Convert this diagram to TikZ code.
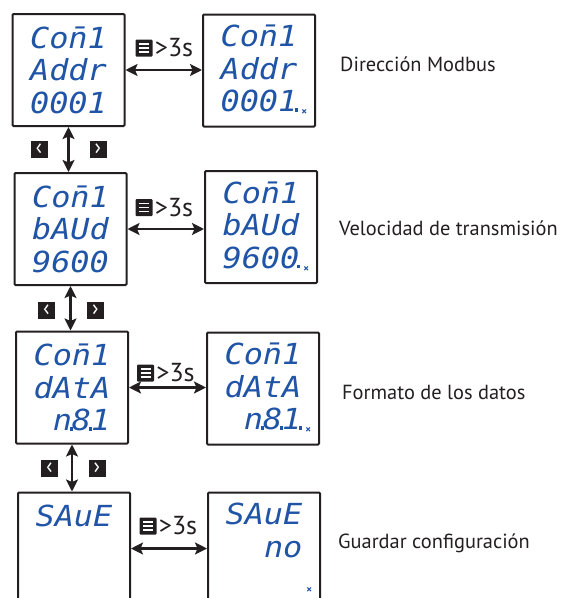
\documentclass[tikz,border=0pt]{standalone}
\usepackage{fontspec}
\setmainfont{PT Sans}
\newfontfamily\segfont[FakeStretch=1.1]{DejaVu Sans Mono}
\usepackage{tikz}
\usetikzlibrary{calc,arrows.meta,positioning}
\usepackage{xcolor}
\definecolor{ink}{RGB}{35,31,32}
\definecolor{segblue}{RGB}{32,84,166}
\newcommand{\segdot}{\makebox[0pt]{\kern-0.05em\rule{0.12em}{0.12em}}}
\newcommand{\segm}{\rlap{¯}n}
\newcommand{\segx}{\makebox[0pt][l]{\kern4pt\raisebox{-4pt}{\normalfont\bfseries\fontsize{11}{11}\selectfont ×}}}

\begin{document}
\begin{tikzpicture}[x=1pt, y=-1pt,
    display/.style={draw=ink, line width=2pt, rounded corners=1pt, minimum width=112pt, minimum height=112pt,
      inner sep=0pt, align=left, text=segblue, font=\segfont\itshape\fontsize{29}{32.5}\selectfont},
    dblarrow/.style={draw=ink, line width=2.4pt, {Stealth[length=12pt,width=12pt,inset=2.5pt]}-{Stealth[length=12pt,width=12pt,inset=2.5pt]}},
    menukey/.style={fill=ink, minimum size=17pt, inner sep=0pt, rounded corners=1pt,
      path picture={\foreach \k in {-4,0,4}{\draw[white, line width=1.5pt] ([xshift=-5pt, yshift=\k pt]path picture bounding box.center) -- ++(10pt,0pt);}}},
    keytext/.style={inner sep=0pt, text=ink, font=\fontsize{26}{28}\selectfont},
    navkey/.style={fill=ink, minimum size=17pt, inner sep=0pt, text=white, font=\fontsize{22}{22}\selectfont},
    caption/.style={anchor=west, inner sep=0pt, text=ink, font=\fontsize{20.4}{24}\selectfont}]
  \useasboundingbox (0,0) rectangle (561,598);
  % displays
  \node[display] (L1) at (68.5,70) {Co\segm1\\Addr\\0001};
  \node[display] (R1) at (259,70.5) {Co\segm1\\Addr\\0001\segdot\segx};
  \node[display] (L2) at (70.5,229) {Co\segm1\\bAUd\\9600};
  \node[display] (R2) at (261,227) {Co\segm1\\bAUd\\9600\segdot\segx};
  \node[display] (L3) at (72,387.5) {Co\segm1\\dAtA\\\phantom{0}n\segdot8\segdot1};
  \node[display] (R3) at (263,388.5) {Co\segm1\\dAtA\\\phantom{0}n\segdot8\segdot1\segdot\segx};
  \node[display] (L4) at (74,548.5) {SAuE\\\phantom{0}\\\phantom{0}};
  \node[display] (R4) at (264,548.5) {SAuE\\\phantom{00}no\\\phantom{0000}\segx};
  % hold menu key
  \draw[dblarrow] (L1.east) -- (L1.east -| R1.west);
  \draw[dblarrow] (L2.east) -- (L2.east -| R2.west);
  \draw[dblarrow] (L3.east) -- (L3.east -| R3.west);
  \draw[dblarrow] (L4.east) -- (L4.east -| R4.west);
  \node[menukey] (m1) at (144,48) {};
  \node[menukey] (m2) at (144,207.5) {};
  \node[menukey] (m3) at (145.5,373) {};
  \node[menukey] (m4) at (148,526) {};
  \node[keytext, right=2pt of m1] (t1) {>3s};
  \node[keytext, right=2pt of m2] (t2) {>3s};
  \node[keytext, right=2pt of m3] (t3) {>3s};
  \node[keytext, right=2pt of m4] (t4) {>3s};
  % navigation keys
  \draw[dblarrow] (L1.south) -- (L1.south |- L2.north);
  \draw[dblarrow] (L2.south) -- (L2.south |- L3.north);
  \draw[dblarrow] (L3.south) -- (L3.south |- L4.north);
  \node[navkey] (p1) at (39,149) {‹};
  \node[navkey] (n1) at (98,149) {›};
  \node[navkey] (p2) at (46.5,310) {‹};
  \node[navkey] (n2) at (95.5,310) {›};
  \node[navkey] (p3) at (49.5,468.5) {‹};
  \node[navkey] (n3) at (97,468.5) {›};
  % captions
  \node[caption] (d1) at (340,64) {Dirección Modbus};
  \node[caption] (d2) at (339,228) {Velocidad de transmisión};
  \node[caption] (d3) at (342,392) {Formato de los datos};
  \node[caption] (d4) at (338,543) {Guardar configuración};
\end{tikzpicture}
\end{document}
